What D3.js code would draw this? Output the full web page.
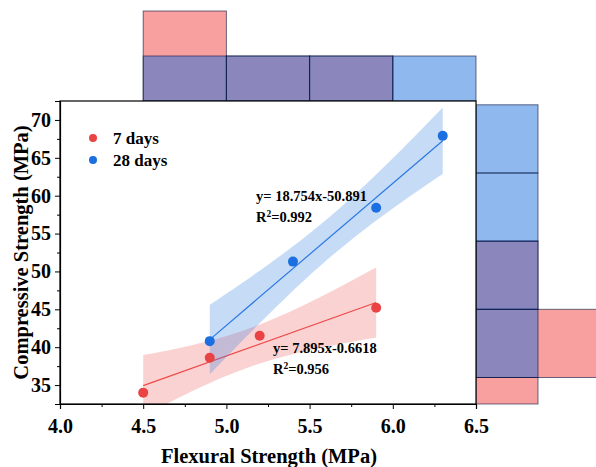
<!DOCTYPE html>
<html>
<head>
<meta charset="utf-8">
<script src="https://cdn.jsdelivr.net/npm/d3@7"></script>
<style>
  body { margin: 0; background: white; }
  svg { display: block; }
  text { font-family: "Liberation Serif", "Times New Roman", serif; font-weight: bold; }
</style>
</head>
<body>
<svg id="chart"></svg>
<script>
// data
const flex_7 = [4.5, 4.9, 5.2, 5.9];
const comp_7 = [34.0, 38.6, 41.5, 45.2];
const flex_28 = [4.9, 5.4, 5.9, 6.3];
const comp_28 = [40.8, 51.3, 58.4, 67.9];
const series_names = ["7 days", "28 days"];
const equations = [["y= 7.895x-0.6618", "0.956"], ["y= 18.754x-50.891", "0.992"]];
const x_ticks = [4.0, 4.5, 5.0, 5.5, 6.0, 6.5];
const y_ticks = [35, 40, 45, 50, 55, 60, 65, 70];
const x_bins = [4.0, 4.5, 5.0, 5.5, 6.0, 6.5];
const y_bins = [27, 36, 45, 54, 63, 72];

const W = 596, H = 467;
const p_left = 60, p_right = 476, p_top = 101, p_bottom = 404;

const svg = d3.select("#chart").attr("width", W).attr("height", H);

const x = d3.scaleLinear().domain([4.0, 6.5]).range([p_left, p_right]);
const y = d3.scaleLinear().domain([32.5, 72.5]).range([p_bottom, p_top]);
const count_top = d3.scaleLinear().domain([0, 2]).range([p_top, p_top - 90]);
const count_right = d3.scaleLinear().domain([0, 2]).range([p_right, p_right + 124]);

const colors = {
    point: ["#e94343", "#1b6fe0"],
    line: ["#ef4a4a", "#2a78e6"],
    band: ["rgba(240,90,90,0.27)", "rgba(60,130,225,0.29)"],
    hist: ["rgba(241,66,66,0.5)", "rgba(20,108,220,0.48)"]
};

const groups = [
    { xs: flex_7, ys: comp_7 },
    { xs: flex_28, ys: comp_28 }
];

function count_in_bins(values, edges) {
    const counts = [];
    for (let i = 0; i < edges.length - 1; i++) {
        counts.push(values.filter(v => v >= edges[i] && v < edges[i + 1]).length);
    }
    return counts;
}

function fit(xs, ys) {
    const n = xs.length;
    const mx = d3.mean(xs), my = d3.mean(ys);
    let sxx = 0, sxy = 0;
    for (let i = 0; i < n; i++) {
        sxx += (xs[i] - mx) ** 2;
        sxy += (xs[i] - mx) * (ys[i] - my);
    }
    const b = sxy / sxx, a = my - b * mx;
    let sse = 0;
    for (let i = 0; i < n; i++) sse += (ys[i] - a - b * xs[i]) ** 2;
    const s = Math.sqrt(sse / (n - 2));
    const t = 4.303; // t(0.975, df=2)
    const lo = d3.min(xs), hi = d3.max(xs);
    const band = d3.range(0, 41).map(k => {
        const xv = lo + (hi - lo) * k / 40;
        const half = t * s * Math.sqrt(1 / n + (xv - mx) ** 2 / sxx);
        const yv = a + b * xv;
        return { x: xv, y0: yv - half, y1: yv + half };
    });
    return { a, b, lo, hi, band };
}

// marginal histograms
groups.forEach((g, i) => {
    const ct = count_in_bins(g.xs, x_bins);
    svg.append("g").selectAll("rect")
        .data(ct.map((c, k) => ({ c, k })).filter(d => d.c > 0))
        .enter().append("rect")
        .attr("x", d => x(x_bins[d.k]))
        .attr("width", d => x(x_bins[d.k + 1]) - x(x_bins[d.k]))
        .attr("y", d => count_top(d.c))
        .attr("height", d => count_top(0) - count_top(d.c))
        .attr("fill", colors.hist[i])
        .attr("stroke", "rgba(10,20,60,0.6)")
        .attr("stroke-width", 1);

    const cr = count_in_bins(g.ys, y_bins);
    svg.append("g").selectAll("rect")
        .data(cr.map((c, k) => ({ c, k })).filter(d => d.c > 0))
        .enter().append("rect")
        .attr("x", count_right(0))
        .attr("width", d => count_right(d.c) - count_right(0))
        .attr("y", d => y(y_bins[d.k + 1]))
        .attr("height", d => Math.min(y(y_bins[d.k]), p_bottom) - y(y_bins[d.k + 1]))
        .attr("fill", colors.hist[i])
        .attr("stroke", "rgba(10,20,60,0.6)")
        .attr("stroke-width", 1);
});

// plot background + clip
svg.append("rect")
    .attr("x", p_left).attr("y", p_top)
    .attr("width", p_right - p_left).attr("height", p_bottom - p_top)
    .attr("fill", "white");

svg.append("clipPath").attr("id", "plot-clip")
    .append("rect")
    .attr("x", p_left).attr("y", p_top)
    .attr("width", p_right - p_left).attr("height", p_bottom - p_top);

const plot = svg.append("g").attr("clip-path", "url(#plot-clip)");

groups.forEach((g, i) => {
    const f = fit(g.xs, g.ys);
    plot.append("path")
        .datum(f.band)
        .attr("fill", colors.band[i])
        .attr("d", d3.area().x(d => x(d.x)).y0(d => y(d.y0)).y1(d => y(d.y1)));
    plot.append("line")
        .attr("x1", x(f.lo)).attr("y1", y(f.a + f.b * f.lo))
        .attr("x2", x(f.hi)).attr("y2", y(f.a + f.b * f.hi))
        .attr("stroke", colors.line[i])
        .attr("stroke-width", 1.2);
});

groups.forEach((g, i) => {
    plot.append("g").selectAll("circle")
        .data(g.xs.map((v, k) => [v, g.ys[k]]))
        .enter().append("circle")
        .attr("cx", d => x(d[0]))
        .attr("cy", d => y(d[1]))
        .attr("r", 5)
        .attr("fill", colors.point[i]);
});

// frame
svg.append("rect")
    .attr("x", p_left).attr("y", p_top)
    .attr("width", p_right - p_left).attr("height", p_bottom - p_top)
    .attr("fill", "none")
    .attr("stroke", "black")
    .attr("stroke-width", 1.2);

// axes
const x_minor = d3.range(4.25, 6.5, 0.5);
const y_minor = d3.range(32.5, 72.6, 5);

svg.append("g")
    .attr("transform", `translate(0,${p_bottom})`)
    .call(d3.axisBottom(x).tickValues(x_minor).tickSize(3).tickFormat(""))
    .call(g => g.select(".domain").remove());

const xaxis = svg.append("g")
    .attr("transform", `translate(0,${p_bottom})`)
    .call(d3.axisBottom(x).tickValues(x_ticks).tickSize(5).tickPadding(10).tickFormat(d3.format(".1f")));
xaxis.select(".domain").attr("stroke-width", 1.2);
xaxis.selectAll("text").attr("font-size", 20).attr("fill", "black")
    .style("font-family", "'Liberation Serif', serif").style("font-weight", "bold");

svg.append("g")
    .attr("transform", `translate(${p_left},0)`)
    .call(d3.axisLeft(y).tickValues(y_minor).tickSize(3).tickFormat(""))
    .call(g => g.select(".domain").remove());

const yaxis = svg.append("g")
    .attr("transform", `translate(${p_left},0)`)
    .call(d3.axisLeft(y).tickValues(y_ticks).tickSize(5).tickPadding(4));
yaxis.select(".domain").attr("stroke-width", 1.2);
yaxis.selectAll("text").attr("font-size", 20).attr("fill", "black")
    .style("font-family", "'Liberation Serif', serif").style("font-weight", "bold");

// axis titles
svg.append("text")
    .attr("x", (p_left + p_right) / 2 + 1)
    .attr("y", 463)
    .attr("text-anchor", "middle")
    .attr("font-size", 20.5)
    .text("Flexural Strength (MPa)");

svg.append("text")
    .attr("transform", `translate(28,${(p_top + p_bottom) / 2}) rotate(-90)`)
    .attr("text-anchor", "middle")
    .attr("font-size", 20.5)
    .text("Compressive Strength (MPa)");

// legend
series_names.forEach((name, i) => {
    svg.append("circle")
        .attr("cx", 93).attr("cy", 138 + i * 22)
        .attr("r", 4)
        .attr("fill", colors.point[i]);
    svg.append("text")
        .attr("x", 113).attr("y", 144 + i * 22)
        .attr("font-size", 17)
        .text(name);
});

// equations
const eq_pos = [[273, 353], [256, 201]];
equations.forEach((eq, i) => {
    const [ex, ey] = eq_pos[i];
    svg.append("text")
        .attr("x", ex).attr("y", ey)
        .attr("font-size", 14.5)
        .text(eq[0]);
    const r = svg.append("text")
        .attr("x", ex).attr("y", ey + 21)
        .attr("font-size", 14.5);
    r.append("tspan").text("R");
    r.append("tspan").attr("font-size", 9.5).attr("dy", -5.5).text("2");
    r.append("tspan").attr("dy", 5.5).text("=" + eq[1]);
});
</script>
</body>
</html>
